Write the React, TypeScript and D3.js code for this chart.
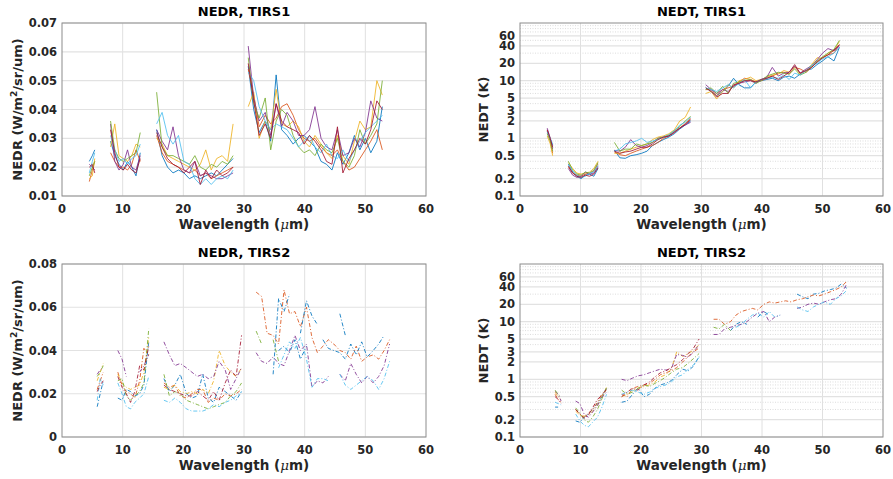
import React from 'react';
import * as d3 from 'd3';

const COLORS = ['#0072BD', '#D95319', '#EDB120', '#7E2F8E', '#77AC30', '#4DBEEE', '#A2142F', '#0072BD'];
const N = null;

// Wavelength grids (null = gap between spectral segments)
const WL1 = [4.5, 5.0, 5.4, N, 8.0, 8.7, 9.4, 10.1, 10.8, 11.5, 12.2, 12.9, N,
  15.6, 16.5, 17.4, 18.3, 19.2, 20.1, 21.0, 21.9, 22.8, 23.7, 24.6, 25.5, 26.4, 27.3, 28.2, N,
  30.7, 31.6, 32.5, 33.5, 34.4, 35.3, 36.2, 37.1, 38.1, 39.0, 39.9, 40.8, 41.7, 42.7, 43.6, 44.5, 45.4, 46.3, 47.3, 48.2, 49.1, 50.0, 50.9, 51.9, 52.8];
const WL2 = [5.8, 6.3, 6.8, N, 9.2, 9.9, 10.6, 11.3, 12.0, 12.8, 13.5, 14.3, N,
  16.8, 17.7, 18.6, 19.5, 20.5, 21.4, 22.3, 23.2, 24.1, 25.0, 25.9, 26.9, 27.8, 28.7, 29.6, N,
  32.0, 32.9, 33.8, 34.8, 35.7, 36.6, 37.5, 38.4, 39.3, 40.3, 41.2, 42.1, 43.0, 43.9, 44.8, 45.8, 46.7, 47.6, 48.5, 49.4, 50.3, 51.3, 52.2, 53.1, 54.0];

// NEDR, TIRS1
const NEDR1_S1 = [0.022, 0.024, 0.026, N, 0.029, 0.024, 0.021, 0.019, 0.022, 0.020, 0.017, 0.025, N, 0.033, 0.024, 0.020, 0.018, 0.019, 0.018, 0.016, 0.017, 0.016, 0.017, 0.018, 0.017, 0.019, 0.021, 0.023, N, 0.055, 0.040, 0.032, 0.036, 0.029, 0.052, 0.033, 0.031, 0.028, 0.030, 0.031, 0.029, 0.027, 0.022, 0.021, 0.019, 0.025, 0.021, 0.025, 0.031, 0.026, 0.030, 0.025, 0.029, 0.041];
const NEDR1_S2 = [0.015, 0.019, 0.022, N, 0.025, 0.022, 0.020, 0.020, 0.019, 0.021, 0.026, 0.022, N, 0.031, 0.025, 0.022, 0.021, 0.020, 0.019, 0.018, 0.019, 0.017, 0.018, 0.016, 0.017, 0.018, 0.019, 0.020, N, 0.054, 0.045, 0.034, 0.038, 0.035, 0.037, 0.041, 0.042, 0.038, 0.033, 0.030, 0.029, 0.030, 0.027, 0.025, 0.024, 0.026, 0.022, 0.019, 0.020, 0.023, 0.026, 0.029, 0.033, 0.026];
const NEDR1_S3 = [0.016, 0.017, 0.023, N, 0.027, 0.035, 0.024, 0.023, 0.022, 0.024, 0.028, 0.027, N, 0.030, 0.028, 0.024, 0.023, 0.022, 0.021, 0.020, 0.019, 0.021, 0.026, 0.019, 0.023, 0.024, 0.022, 0.035, N, 0.041, 0.046, 0.030, 0.036, 0.033, 0.047, 0.035, 0.034, 0.036, 0.034, 0.029, 0.027, 0.031, 0.028, 0.025, 0.023, 0.031, 0.024, 0.021, 0.029, 0.036, 0.033, 0.034, 0.050, 0.045];
const NEDR1_S4 = [0.021, 0.020, 0.019, N, 0.035, 0.022, 0.019, 0.021, 0.026, 0.020, 0.019, 0.024, N, 0.033, 0.029, 0.026, 0.034, 0.024, 0.019, 0.018, 0.022, 0.017, 0.018, 0.017, 0.016, 0.016, 0.017, 0.018, N, 0.062, 0.044, 0.036, 0.039, 0.031, 0.042, 0.034, 0.039, 0.036, 0.031, 0.031, 0.033, 0.041, 0.030, 0.027, 0.026, 0.033, 0.024, 0.025, 0.030, 0.027, 0.032, 0.043, 0.037, 0.036];
const NEDR1_S5 = [0.017, 0.020, 0.022, N, 0.036, 0.026, 0.023, 0.022, 0.023, 0.024, 0.025, 0.032, N, 0.046, 0.027, 0.024, 0.024, 0.023, 0.022, 0.021, 0.024, 0.020, 0.019, 0.021, 0.020, 0.022, 0.021, 0.024, N, 0.058, 0.042, 0.037, 0.044, 0.026, 0.036, 0.040, 0.038, 0.031, 0.027, 0.025, 0.026, 0.024, 0.028, 0.026, 0.025, 0.030, 0.022, 0.020, 0.024, 0.033, 0.028, 0.031, 0.035, 0.050];
const NEDR1_S6 = [0.018, 0.022, 0.025, N, 0.031, 0.026, 0.022, 0.023, 0.021, 0.023, 0.024, 0.028, N, 0.035, 0.039, 0.031, 0.028, 0.031, 0.022, 0.021, 0.016, 0.014, 0.016, 0.014, 0.016, 0.017, 0.016, 0.019, N, 0.053, 0.050, 0.041, 0.036, 0.033, 0.035, 0.034, 0.033, 0.030, 0.027, 0.029, 0.031, 0.027, 0.025, 0.028, 0.024, 0.023, 0.026, 0.022, 0.026, 0.029, 0.032, 0.034, 0.036, 0.038];
const NEDR1_S7 = [0.020, 0.021, 0.018, N, 0.033, 0.025, 0.020, 0.019, 0.021, 0.019, 0.018, 0.023, N, 0.032, 0.027, 0.023, 0.021, 0.020, 0.018, 0.020, 0.022, 0.014, 0.019, 0.016, 0.019, 0.017, 0.018, 0.020, N, 0.056, 0.043, 0.031, 0.035, 0.030, 0.042, 0.036, 0.034, 0.033, 0.032, 0.028, 0.031, 0.029, 0.026, 0.022, 0.021, 0.034, 0.018, 0.023, 0.026, 0.030, 0.028, 0.033, 0.043, 0.040];

// NEDT, TIRS1
const NEDT1_S1 = [1.3, 0.95, 0.75, N, 0.36, 0.26, 0.22, 0.20, 0.23, 0.24, 0.22, 0.30, N, 0.62, 0.46, 0.45, 0.50, 0.52, 0.55, 0.60, 0.75, 0.85, 0.95, 1.05, 1.20, 1.45, 1.70, 2.00, N, 7.5, 6.5, 5.5, 6.5, 8.0, 11.0, 8.5, 7.5, 7.5, 9.5, 10.0, 10.5, 11.0, 10.0, 11.5, 12.0, 11.0, 13.0, 15.0, 16.0, 19.0, 22.0, 26.0, 22.0, 38.0];
const NEDT1_S2 = [1.4, 0.9, 0.55, N, 0.32, 0.25, 0.23, 0.22, 0.24, 0.25, 0.27, 0.36, N, 0.58, 0.52, 0.50, 0.55, 0.60, 0.65, 0.70, 0.75, 0.85, 1.00, 1.10, 1.30, 1.50, 1.80, 2.20, N, 7.0, 7.0, 5.5, 7.0, 7.5, 8.0, 9.5, 11.0, 10.5, 9.5, 10.0, 11.0, 12.0, 13.5, 14.0, 13.0, 17.0, 16.0, 14.0, 17.0, 21.0, 25.0, 28.0, 30.0, 42.0];
const NEDT1_S3 = [1.1, 0.8, 0.5, N, 0.38, 0.30, 0.25, 0.24, 0.25, 0.26, 0.30, 0.40, N, 0.55, 0.55, 0.60, 0.65, 0.70, 0.75, 0.80, 0.95, 1.05, 1.10, 1.20, 1.40, 2.00, 2.30, 3.50, N, 6.0, 6.5, 4.8, 6.5, 8.5, 7.5, 10.0, 10.5, 11.5, 10.0, 10.5, 11.5, 12.5, 13.0, 15.0, 14.0, 17.5, 13.0, 15.0, 19.0, 25.0, 24.0, 30.0, 33.0, 48.0];
const NEDT1_S4 = [1.5, 1.0, 0.65, N, 0.30, 0.23, 0.21, 0.22, 0.26, 0.24, 0.25, 0.33, N, 0.62, 0.60, 0.70, 0.95, 0.75, 0.70, 0.75, 0.85, 1.00, 1.05, 1.10, 1.30, 1.50, 1.70, 1.90, N, 8.5, 7.0, 6.0, 7.0, 6.5, 8.0, 9.0, 9.5, 10.0, 9.0, 10.5, 11.5, 17.0, 12.0, 13.5, 14.0, 18.0, 13.5, 16.0, 18.0, 23.0, 30.0, 36.0, 33.0, 40.0];
const NEDT1_S5 = [1.2, 0.9, 0.6, N, 0.40, 0.28, 0.24, 0.23, 0.26, 0.25, 0.28, 0.38, N, 0.85, 0.60, 0.65, 0.65, 0.80, 0.75, 0.80, 0.85, 1.00, 1.05, 1.15, 1.35, 1.60, 2.00, 2.40, N, 7.0, 7.5, 6.0, 8.0, 6.0, 9.0, 9.5, 10.0, 10.5, 9.0, 10.0, 12.0, 13.0, 14.0, 13.5, 13.0, 16.0, 12.5, 14.0, 18.0, 22.0, 26.0, 30.0, 35.0, 50.0];
const NEDT1_S6 = [1.3, 1.0, 0.8, N, 0.34, 0.27, 0.23, 0.21, 0.22, 0.25, 0.26, 0.34, N, 0.60, 0.65, 0.80, 0.85, 0.90, 1.00, 0.85, 0.90, 0.95, 1.05, 1.15, 1.35, 1.70, 1.90, 2.30, N, 7.5, 7.0, 6.5, 7.5, 8.5, 7.5, 9.0, 10.5, 7.5, 9.5, 10.5, 11.0, 11.5, 11.0, 12.5, 10.5, 13.5, 12.5, 15.0, 18.5, 20.0, 24.0, 26.0, 30.0, 38.0];
const NEDT1_S7 = [1.4, 1.0, 0.7, N, 0.33, 0.25, 0.22, 0.21, 0.23, 0.22, 0.24, 0.31, N, 0.60, 0.55, 0.58, 0.60, 0.65, 0.70, 0.70, 0.80, 0.95, 1.05, 1.10, 1.25, 1.50, 1.75, 2.10, N, 7.5, 6.5, 5.2, 6.0, 6.0, 8.5, 9.0, 10.0, 10.0, 9.5, 10.5, 11.0, 12.0, 10.5, 12.0, 14.0, 19.0, 13.5, 15.0, 17.0, 21.0, 25.0, 28.0, 34.0, 42.0];

// NEDR, TIRS2
const NEDR2_S1 = [0.014, 0.020, 0.026, N, 0.018, 0.017, 0.022, 0.021, 0.019, 0.020, 0.024, 0.044, N, 0.027, 0.021, 0.024, 0.029, 0.020, 0.018, 0.019, 0.029, 0.018, 0.016, 0.023, 0.021, 0.019, 0.017, 0.021, N, N, N, N, N, 0.040, 0.042, 0.039, 0.045, 0.036, 0.042, N, N, 0.045, 0.041, 0.040, 0.039, 0.036, 0.043, 0.038, 0.044, 0.037, 0.040, 0.043, 0.047, N];
const NEDR2_S2 = [0.022, 0.026, 0.030, N, 0.030, 0.024, 0.021, 0.020, 0.018, 0.026, 0.041, 0.038, N, 0.025, 0.023, 0.024, 0.019, 0.018, 0.020, 0.022, 0.022, 0.016, 0.018, 0.017, 0.020, 0.019, 0.020, 0.022, N, 0.067, 0.065, 0.048, 0.047, 0.043, 0.068, 0.057, 0.058, 0.051, 0.060, 0.046, 0.039, 0.042, 0.045, 0.043, 0.040, 0.039, 0.036, 0.042, 0.035, 0.037, 0.038, 0.036, 0.040, 0.045];
const NEDR2_S3 = [0.026, 0.030, 0.034, N, 0.029, 0.025, 0.023, 0.022, 0.023, 0.024, 0.030, 0.046, N, 0.023, 0.022, 0.024, 0.021, 0.020, 0.021, 0.020, 0.022, 0.020, 0.026, 0.040, 0.033, 0.030, 0.028, 0.032, N, N, N, N, N, N, N, N, N, N, N, N, N, N, N, N, N, N, N, N, N, N, N, N, N, N];
const NEDR2_S4 = [0.029, 0.031, 0.032, N, 0.040, 0.036, 0.028, N, N, 0.030, 0.033, 0.038, N, 0.044, 0.038, 0.033, 0.034, 0.032, 0.030, 0.028, 0.029, 0.027, 0.028, 0.035, 0.031, 0.022, 0.027, 0.032, N, 0.039, 0.035, 0.034, 0.037, 0.034, 0.033, 0.040, 0.047, 0.040, 0.043, 0.023, 0.026, 0.025, 0.028, N, 0.029, 0.026, 0.034, 0.029, 0.025, 0.028, 0.025, 0.028, 0.033, 0.043];
const NEDR2_S5 = [0.028, 0.030, 0.033, N, 0.026, 0.027, 0.019, 0.017, 0.019, 0.021, 0.025, 0.050, N, 0.029, 0.019, 0.021, 0.020, 0.017, 0.016, 0.015, 0.014, 0.013, 0.014, 0.015, 0.016, 0.019, 0.021, 0.025, N, 0.049, 0.043, N, 0.045, 0.035, N, N, N, N, N, N, N, N, N, N, N, N, N, N, N, N, N, N, N, N];
const NEDR2_S6 = [0.017, 0.027, 0.024, N, 0.025, 0.020, 0.014, 0.013, 0.016, 0.018, 0.020, 0.028, N, 0.017, 0.016, 0.018, 0.016, 0.013, 0.012, 0.012, 0.012, 0.013, 0.015, 0.014, 0.016, 0.017, 0.019, 0.021, N, N, N, N, N, 0.032, 0.038, 0.044, 0.041, 0.046, 0.036, 0.023, 0.027, 0.027, 0.026, N, 0.029, 0.024, 0.022, 0.024, 0.026, 0.028, 0.026, 0.022, 0.027, 0.035];
const NEDR2_S7 = [0.021, 0.024, 0.026, N, 0.028, 0.023, 0.020, 0.016, 0.021, 0.033, 0.031, 0.042, N, 0.024, 0.022, 0.021, 0.020, 0.019, 0.019, 0.021, 0.019, 0.017, 0.021, 0.017, 0.025, 0.031, 0.028, 0.047, N, N, N, N, N, N, N, N, N, N, N, N, N, N, N, N, N, N, N, N, N, N, N, N, N, N];
const NEDR2_S8 = [N, N, N, N, N, N, N, N, N, N, N, N, N, N, N, N, N, N, N, N, N, N, N, N, N, N, N, N, N, N, N, N, 0.029, 0.064, 0.058, 0.066, N, 0.048, 0.063, 0.056, 0.052, N, N, N, 0.057, 0.047, N, N, N, N, N, N, N, N];

// NEDT, TIRS2
const NEDT2_S1 = [0.33, 0.33, N, N, 0.19, 0.18, 0.22, 0.25, 0.30, 0.38, 0.50, 0.70, N, 0.40, 0.42, 0.55, 0.70, 0.50, 0.55, 0.70, 0.80, 0.85, 0.95, 1.20, 1.50, 1.40, 1.70, 2.50, N, N, N, N, 7, 9, 10, 9, N, 12, 15, 13, N, N, N, N, 30, 27, 25, 30, 31, 34, 36, 38, 45, 38];
const NEDT2_S2 = [0.55, 0.45, 0.40, N, 0.30, 0.25, 0.22, 0.26, 0.30, 0.40, 0.55, 0.65, N, 0.55, 0.50, 0.70, 0.75, 0.80, 0.85, 1.00, 1.20, 1.30, 1.40, 1.60, 2.00, 2.50, 3.00, 3.50, N, 11, 11, 9, 10, 13, 15, 16, 17, 16, 20, 22, 21, 22, 23, 22, 24, 25, 27, 29, 28, 30, 33, 36, 40, 50];
const NEDT2_S3 = [0.60, 0.50, 0.45, N, 0.28, 0.24, 0.23, 0.24, 0.28, 0.36, 0.50, 0.72, N, 0.50, 0.55, 0.65, 0.70, 0.75, 0.80, 0.90, 1.10, 1.20, 1.50, 3.00, 2.50, 2.80, 3.20, 4.00, N, N, N, N, N, N, N, N, N, N, N, N, N, N, N, N, N, N, N, N, N, N, N, N, N, N];
const NEDT2_S4 = [0.62, 0.55, 0.42, N, 0.42, 0.38, 0.25, 0.22, 0.27, 0.35, 0.48, 0.60, N, 1.00, 0.95, 1.05, 1.15, 1.20, 1.30, 1.40, 1.50, 1.45, 1.50, 2.70, 2.60, 2.40, 3.00, 4.00, N, 6, 6, 7.5, 8, 8.5, 9, 10, 12, 14, 15, 10, 12, 13, N, N, 17, 18, 20, 21, 20, 22, 24, 25, 30, 45];
const NEDT2_S5 = [0.65, 0.55, 0.50, N, 0.32, 0.26, 0.20, 0.18, 0.22, 0.30, 0.45, 0.72, N, 0.65, 0.55, 0.60, 0.70, 0.80, 0.75, 0.85, 0.95, 1.10, 1.30, 1.50, 1.60, 1.90, 2.30, 2.80, N, 8, 7.5, 9, 7, N, N, N, N, N, N, N, N, N, N, N, N, N, N, N, N, N, N, N, N, N];
const NEDT2_S6 = [0.40, 0.38, 0.36, N, 0.25, 0.19, 0.16, 0.15, 0.18, 0.22, 0.32, 0.55, N, 0.55, 0.60, 0.65, 0.60, 0.55, 0.60, 0.70, 0.75, 0.80, 0.90, 1.10, 1.20, 1.50, 1.80, 2.40, N, N, N, N, N, 8, 9, 11, 13, 14, 12, 15, 12, 13, N, N, 18, 16, 15, 18, 20, 22, 20, 25, 28, 35];
const NEDT2_S7 = [0.50, 0.45, 0.38, N, 0.30, 0.25, 0.21, 0.24, 0.32, 0.45, 0.52, 0.68, N, 0.50, 0.60, 0.70, 0.65, 0.80, 0.90, 1.10, 1.30, 1.40, 1.60, 1.80, 2.20, 2.80, 3.50, 5.00, N, N, N, N, N, N, N, N, N, N, N, N, N, N, N, N, N, N, N, N, N, N, N, N, N, N];

const X_TICKS = [0, 10, 20, 30, 40, 50, 60];
const NEDR1_TICKS = [0.01, 0.02, 0.03, 0.04, 0.05, 0.06, 0.07];
const NEDR1_LABELS = ['0.01', '0.02', '0.03', '0.04', '0.05', '0.06', '0.07'];
const NEDR2_TICKS = [0, 0.02, 0.04, 0.06, 0.08];
const NEDR2_LABELS = ['0', '0.02', '0.04', '0.06', '0.08'];
const NEDT_TICKS = [0.1, 0.2, 0.5, 1, 2, 3, 5, 10, 20, 40, 60];
const NEDT_LABELS = ['0.1', '0.2', '0.5', '1', '2', '3', '5', '10', '20', '40', '60'];

const FONT = '"DejaVu Sans", sans-serif';
const TXT = '#262626';

type Val = number | null;

function Panel(p: {
  id: string; left: number; top: number; right: number; bottom: number;
  log: boolean; yDomain: [number, number]; yTicks: number[]; yLabels: string[];
  title: string; ylabel: React.ReactNode; ylabelX: number;
  wl: Val[]; series: Val[][]; dash?: string;
}) {
  const x = d3.scaleLinear().domain([0, 60]).range([p.left, p.right]);
  const y: any = p.log
    ? d3.scaleLog().domain(p.yDomain).range([p.bottom, p.top])
    : d3.scaleLinear().domain(p.yDomain).range([p.bottom, p.top]);
  const minor: number[] = [];
  if (p.log) {
    [0.1, 1, 10].forEach((dec) => {
      for (let k = 1; k <= 9; k++) {
        const v = +(k * dec).toPrecision(3);
        if (!p.yTicks.some((t) => Math.abs(t - v) < 1e-9)) minor.push(v);
      }
    });
  }
  const line = d3.line<[Val, Val]>()
    .defined((d) => d[0] != null && d[1] != null)
    .x((d) => x(d[0] as number))
    .y((d) => y(d[1] as number));
  const cx = (p.left + p.right) / 2;
  const cy = (p.top + p.bottom) / 2;
  return (
    <g>
      <defs>
        <clipPath id={p.id}>
          <rect x={p.left} y={p.top} width={p.right - p.left} height={p.bottom - p.top} />
        </clipPath>
      </defs>
      <rect x={p.left} y={p.top} width={p.right - p.left} height={p.bottom - p.top} fill="#fff" />
      {minor.map((v) => (
        <line key={'m' + v} x1={p.left} x2={p.right} y1={y(v)} y2={y(v)} stroke="#d4d4d4" strokeWidth={0.8} strokeDasharray="1,1.5" />
      ))}
      {X_TICKS.slice(1, -1).map((t) => (
        <line key={'gx' + t} x1={x(t)} x2={x(t)} y1={p.top} y2={p.bottom} stroke="#e0e0e0" strokeWidth={1} />
      ))}
      {p.yTicks.map((t) => (
        <line key={'gy' + t} x1={p.left} x2={p.right} y1={y(t)} y2={y(t)} stroke="#e2e2e2" strokeWidth={1.2} />
      ))}
      <g clipPath={`url(#${p.id})`}>
        {p.series.map((s, i) => {
          const pts: [Val, Val][] = p.wl.map((w, j) => [w, j < s.length ? s[j] : null]);
          return (
            <path key={i} d={line(pts) || ''} fill="none" stroke={COLORS[i]} strokeWidth={0.85}
              strokeDasharray={p.dash} strokeLinejoin="round" />
          );
        })}
      </g>
      <rect x={p.left} y={p.top} width={p.right - p.left} height={p.bottom - p.top} fill="none" stroke="#8c8c8c" strokeWidth={1} />
      {X_TICKS.map((t) => (
        <text key={'xt' + t} x={x(t)} y={p.bottom + 17} textAnchor="middle" fontFamily={FONT} fontWeight="bold" fontSize={11.5} fill={TXT}>{t}</text>
      ))}
      {p.yTicks.map((t, i) => (
        <text key={'yt' + t} x={p.left - 5} y={y(t) + 4} textAnchor="end" fontFamily={FONT} fontWeight="bold" fontSize={11.5} fill={TXT}>{p.yLabels[i]}</text>
      ))}
      <text x={cx} y={p.top - 7} textAnchor="middle" fontFamily={FONT} fontWeight="bold" fontSize={13} fill="#000">{p.title}</text>
      <text x={cx} y={p.bottom + 33} textAnchor="middle" fontFamily={FONT} fontWeight="bold" fontSize={13.5} fill={TXT}>
        Wavelength (<tspan fontStyle="italic" fontWeight="normal" fontFamily='"DejaVu Serif", serif'>μ</tspan>m)
      </text>
      <text transform={`translate(${p.ylabelX},${cy}) rotate(-90)`} textAnchor="middle" fontFamily={FONT} fontWeight="bold" fontSize={13} fill={TXT}>
        {p.ylabel}
      </text>
    </g>
  );
}

const nedrLabel = (
  <>
    NEDR (W/m<tspan dy={-5} fontSize={9}>2</tspan><tspan dy={5}>/sr/um)</tspan>
  </>
);

export default function App() {
  return (
    <svg width={893} height={479} style={{ position: 'absolute', left: 0, top: 0, background: '#fff' }}>
      <rect width={893} height={479} fill="#fff" />
      <Panel id="c1" left={62} right={426} top={23} bottom={196} log={false} yDomain={[0.01, 0.07]}
        yTicks={NEDR1_TICKS} yLabels={NEDR1_LABELS} title="NEDR, TIRS1" ylabel={nedrLabel} ylabelX={22}
        wl={WL1} series={[NEDR1_S1, NEDR1_S2, NEDR1_S3, NEDR1_S4, NEDR1_S5, NEDR1_S6, NEDR1_S7]} />
      <Panel id="c2" left={520} right={883} top={23} bottom={196} log={true} yDomain={[0.1, 100]}
        yTicks={NEDT_TICKS} yLabels={NEDT_LABELS} title="NEDT, TIRS1" ylabel="NEDT (K)" ylabelX={488}
        wl={WL1} series={[NEDT1_S1, NEDT1_S2, NEDT1_S3, NEDT1_S4, NEDT1_S5, NEDT1_S6, NEDT1_S7]} />
      <Panel id="c3" left={62} right={426} top={264} bottom={437} log={false} yDomain={[0, 0.08]}
        yTicks={NEDR2_TICKS} yLabels={NEDR2_LABELS} title="NEDR, TIRS2" ylabel={nedrLabel} ylabelX={22}
        wl={WL2} series={[NEDR2_S1, NEDR2_S2, NEDR2_S3, NEDR2_S4, NEDR2_S5, NEDR2_S6, NEDR2_S7, NEDR2_S8]} dash="4,2,1,2" />
      <Panel id="c4" left={520} right={883} top={264} bottom={437} log={true} yDomain={[0.1, 100]}
        yTicks={NEDT_TICKS} yLabels={NEDT_LABELS} title="NEDT, TIRS2" ylabel="NEDT (K)" ylabelX={488}
        wl={WL2} series={[NEDT2_S1, NEDT2_S2, NEDT2_S3, NEDT2_S4, NEDT2_S5, NEDT2_S6, NEDT2_S7]} dash="4,2,1,2" />
    </svg>
  );
}
